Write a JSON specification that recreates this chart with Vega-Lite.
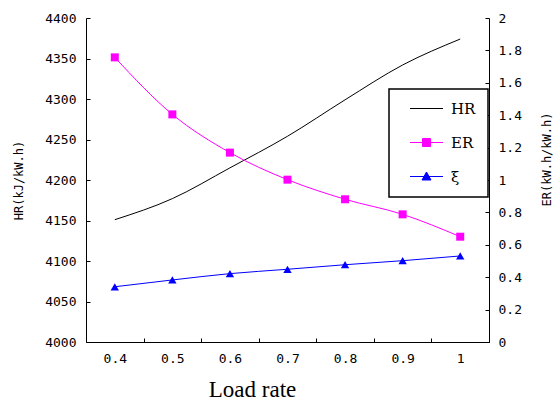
{
  "$schema": "https://vega.github.io/schema/vega-lite/v6.json",
  "width": 403,
  "height": 324,
  "autosize": "none",
  "padding": {"left": 86, "top": 18, "right": 65, "bottom": 60},
  "background": "white",
  "config": {
    "view": {"stroke": null},
    "axis": {
      "grid": false,
      "domainColor": "black",
      "domainWidth": 1,
      "tickColor": "black",
      "tickSize": -4,
      "labelColor": "black",
      "labelFont": "DejaVu Sans Mono",
      "labelFontSize": 13,
      "titleColor": "black",
      "titleFont": "DejaVu Sans Mono",
      "titleFontWeight": "normal",
      "titleFontSize": 12
    },
    "legend": {
      "labelFont": "DejaVu Serif",
      "labelFontSize": 15,
      "labelColor": "black",
      "strokeColor": "black",
      "strokeWidth": 1.5,
      "fillColor": "white",
      "padding": 12,
      "rowPadding": 18,
      "symbolSize": 100,
      "symbolOffset": 18,
      "labelOffset": 17,
      "symbolStrokeWidth": 1
    }
  },
  "data": {
    "values": [
      {"load": 0.4, "series": "HR", "value": 4151},
      {"load": 0.5, "series": "HR", "value": 4177},
      {"load": 0.6, "series": "HR", "value": 4215},
      {"load": 0.7, "series": "HR", "value": 4254},
      {"load": 0.8, "series": "HR", "value": 4299},
      {"load": 0.9, "series": "HR", "value": 4342},
      {"load": 1.0, "series": "HR", "value": 4374},
      {"load": 0.4, "series": "ER", "value": 1.757},
      {"load": 0.5, "series": "ER", "value": 1.405},
      {"load": 0.6, "series": "ER", "value": 1.169},
      {"load": 0.7, "series": "ER", "value": 1.002},
      {"load": 0.8, "series": "ER", "value": 0.881},
      {"load": 0.9, "series": "ER", "value": 0.788},
      {"load": 1.0, "series": "ER", "value": 0.650},
      {"load": 0.4, "series": "ξ", "value": 0.341},
      {"load": 0.5, "series": "ξ", "value": 0.383},
      {"load": 0.6, "series": "ξ", "value": 0.422},
      {"load": 0.7, "series": "ξ", "value": 0.449},
      {"load": 0.8, "series": "ξ", "value": 0.477},
      {"load": 0.9, "series": "ξ", "value": 0.502},
      {"load": 1.0, "series": "ξ", "value": 0.531}
    ]
  },
  "encoding": {
    "x": {
      "field": "load",
      "type": "quantitative",
      "scale": {"domain": [0.35, 1.05], "nice": false, "zero": false},
      "axis": {
        "values": [0.4, 0.5, 0.6, 0.7, 0.8, 0.9, 1.0],
        "format": "~g",
        "tickOffset": 28.8,
        "labelOffset": -28.8,
        "labelPadding": 14,
        "title": "Load rate",
        "titleFont": "Liberation Serif",
        "titleFontSize": 23,
        "titleX": 166,
        "titleY": 54,
        "titleAlign": "center",
        "titleBaseline": "alphabetic",
        "labelFlush": false
      }
    }
  },
  "layer": [
    {
      "transform": [{"filter": "datum.series == 'HR'"}],
      "mark": {"type": "line", "strokeWidth": 1, "interpolate": "monotone"},
      "encoding": {
        "y": {
          "field": "value",
          "type": "quantitative",
          "scale": {"domain": [4000, 4400], "nice": false, "zero": false},
          "axis": {
            "orient": "left",
            "values": [4000, 4050, 4100, 4150, 4200, 4250, 4300, 4350, 4400],
            "format": "d",
            "labelPadding": 14,
            "title": "HR(kJ/kW.h)",
            "titleAngle": -90,
            "titleX": -68,
            "titleY": 162,
            "titleAlign": "center",
            "titleBaseline": "middle",
            "labelFlush": false
          }
        },
        "stroke": {
          "field": "series",
          "type": "nominal",
          "scale": {"domain": ["HR", "ER", "ξ"], "range": ["#000000", "#FF00FF", "#0000FF"]},
          "legend": {"orient": "none", "legendX": 303, "legendY": 71, "title": null, "labelFont": "DejaVu Serif", "labelFontSize": 15}
        }
      }
    },
    {
      "encoding": {
        "y": {
          "field": "value",
          "type": "quantitative",
          "scale": {"domain": [0, 2], "nice": false, "zero": false},
          "axis": {
            "orient": "right",
            "values": [0, 0.2, 0.4, 0.6, 0.8, 1, 1.2, 1.4, 1.6, 1.8, 2],
            "format": "~g",
            "labelPadding": 13,
            "title": "ER(kW.h/kW.h)",
            "titleAngle": -90,
            "titleX": 57,
            "titleY": 141,
            "titleAlign": "center",
            "titleBaseline": "middle",
            "labelFlush": false
          }
        }
      },
      "layer": [
        {
          "transform": [{"filter": "datum.series != 'HR'"}],
          "mark": {"type": "line", "strokeWidth": 1, "interpolate": "monotone"},
          "encoding": {
            "stroke": {"field": "series", "type": "nominal"}
          }
        },
        {
          "transform": [{"filter": "datum.series == 'ER'"}],
          "mark": {"type": "point", "shape": "square", "filled": true, "size": 64, "opacity": 1},
          "encoding": {
            "fill": {
              "field": "series",
              "type": "nominal",
              "scale": {"domain": ["HR", "ER", "ξ"], "range": ["#000000", "#FF00FF", "#0000FF"]}
            }
          }
        },
        {
          "transform": [{"filter": "datum.series == 'ξ'"}],
          "mark": {"type": "point", "shape": "triangle-up", "filled": true, "size": 70, "opacity": 1},
          "encoding": {
            "fill": {"field": "series", "type": "nominal"}
          }
        },
        {
          "transform": [{"filter": "false"}],
          "mark": {"type": "point", "filled": true, "opacity": 1, "strokeWidth": 1},
          "encoding": {
            "stroke": {
              "field": "series",
              "type": "nominal",
              "legend": {"orient": "none", "legendX": 303, "legendY": 71, "title": null, "labelFont": "DejaVu Serif", "labelFontSize": 15}
            },
            "fill": {
              "field": "series",
              "type": "nominal",
              "legend": {"orient": "none", "legendX": 303, "legendY": 71, "title": null, "labelFont": "DejaVu Serif", "labelFontSize": 15}
            },
            "shape": {
              "field": "series",
              "type": "nominal",
              "scale": {
                "domain": ["HR", "ER", "ξ"],
                "range": [
                  "M-3.3,0H3.3",
                  "M-3.3,0H3.3M-0.8,-0.8H0.8V0.8H-0.8Z",
                  "M-3.3,0H3.3M0,-0.9L0.9,0.7H-0.9Z"
                ]
              },
              "legend": {"orient": "none", "legendX": 303, "legendY": 71, "title": null, "labelFont": "DejaVu Serif", "labelFontSize": 15}
            }
          }
        }
      ]
    }
  ],
  "resolve": {"scale": {"y": "independent"}}
}
